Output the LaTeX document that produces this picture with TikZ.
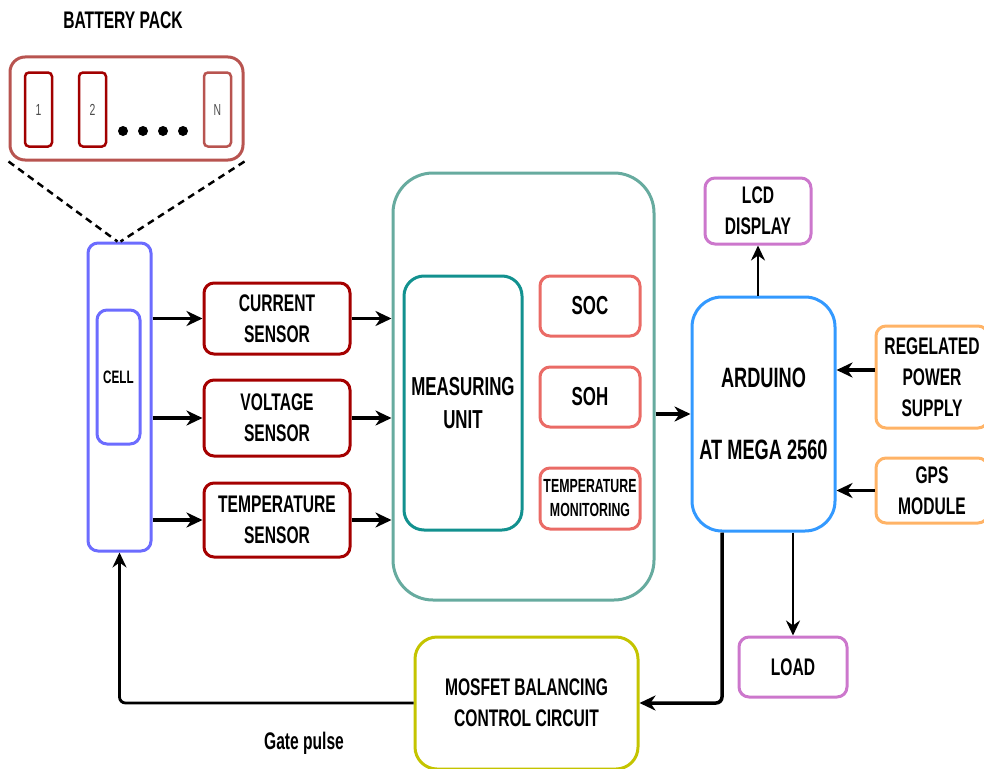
\documentclass[tikz,border=0pt]{standalone}
\usepackage{fontspec}
\setmainfont{Liberation Sans}[FakeStretch=0.65]
\usetikzlibrary{arrows.meta}
\definecolor{packred}{HTML}{B85450}
\definecolor{cellred}{HTML}{A20000}
\definecolor{sensred}{HTML}{A50000}
\definecolor{cellblue}{HTML}{6C6CFF}
\definecolor{measteal}{HTML}{67AB9F}
\definecolor{muteal}{HTML}{12918F}
\definecolor{socred}{HTML}{EA6B66}
\definecolor{ardblue}{HTML}{3399FF}
\definecolor{violet}{HTML}{CC77CC}
\definecolor{orange}{HTML}{FFB366}
\definecolor{olive}{HTML}{C4C400}
\begin{document}
\begin{tikzpicture}[x=1pt,y=-1pt,
  box/.style={draw=#1, line width=3pt, rounded corners=10pt, align=center,
    font=\fontsize{24}{31}\selectfont\bfseries, inner sep=0pt},
  cellbox/.style={draw=#1, line width=2.5pt, rounded corners=4pt, minimum width=27pt,
    minimum height=74pt, font=\fontsize{16}{18}\selectfont, text=black!70, inner sep=0pt},
  dot/.style={circle, fill=black, minimum size=10pt, inner sep=0pt},
  arr/.style={line width=3.5pt, -{Stealth[length=16pt,width=15pt,inset=5pt]}},
  arrt/.style={line width=2.8pt, -{Stealth[length=15pt,width=14pt,inset=5pt]}},
  dashline/.style={line width=2.5pt, dash pattern=on 7pt off 5pt},
  lbl/.style={font=\fontsize{24}{31}\selectfont\bfseries}
]
\clip (0,0) rectangle (984,768);

% battery pack
\node[lbl] (title) at (123,20) {BATTERY PACK};
\node[box=packred, minimum width=233pt, minimum height=103pt, rounded corners=15pt] (pack) at (126.5,108.5) {};
\node[cellbox=cellred] (c1) at (38.5,109.5) {1};
\node[cellbox=cellred] (c2) at (92.5,109.5) {2};
\node[cellbox=packred] (cN) at (217.5,109.5) {N};
\node[dot] (d1) at (123,131) {};
\node[dot] (d2) at (143,131) {};
\node[dot] (d3) at (163,131) {};
\node[dot] (d4) at (183,131) {};

% cell
\node[box=cellblue, minimum width=63pt, minimum height=308pt] (cellout) at (119.5,397) {};
\node[box=cellblue, minimum width=43pt, minimum height=134pt, font=\fontsize{18}{22}\selectfont\bfseries] (cellin) at (118.5,377) {CELL};
\draw[dashline] (pack.south west) -- ([xshift=-2pt]cellout.north);
\draw[dashline] (pack.south east) -- ([xshift=1pt]cellout.north);

% sensors
\node[box=sensred, minimum width=146pt, minimum height=71pt] (cur) at (277,318.5) {CURRENT\\SENSOR};
\node[box=sensred, minimum width=146pt, minimum height=76pt] (volt) at (277,418) {VOLTAGE\\SENSOR};
\node[box=sensred, minimum width=146pt, minimum height=74pt] (temp) at (277,520) {TEMPERATURE\\SENSOR};

% measuring
\node[box=measteal, minimum width=261pt, minimum height=427pt, rounded corners=40pt] (meas) at (523.5,386.5) {};
\node[box=muteal, minimum width=118pt, minimum height=254pt, rounded corners=20pt, font=\fontsize{26}{33}\selectfont\bfseries] (mu) at (463,403) {MEASURING\\UNIT};
\node[box=socred, minimum width=100pt, minimum height=60pt, font=\fontsize{26}{33}\selectfont\bfseries] (soc) at (590,306) {SOC};
\node[box=socred, minimum width=100pt, minimum height=60pt, font=\fontsize{26}{33}\selectfont\bfseries] (soh) at (590,397) {SOH};
\node[box=socred, minimum width=100pt, minimum height=61pt, font=\fontsize{19}{24}\selectfont\bfseries] (tmon) at (590,498.5) {TEMPERATURE\\MONITORING};

% arduino and peripherals
\node[box=ardblue, minimum width=143pt, minimum height=234pt, rounded corners=30pt, font=\fontsize{28}{36}\selectfont\bfseries] (ard) at (763.5,414) {ARDUINO\\[36pt]AT MEGA 2560};
\node[box=violet, minimum width=106pt, minimum height=66pt] (lcd) at (758,211) {LCD\\DISPLAY};
\node[box=orange, minimum width=112pt, minimum height=102pt] (reg) at (932,377) {REGELATED\\POWER\\SUPPLY};
\node[box=orange, minimum width=112pt, minimum height=65pt] (gps) at (932,490.5) {GPS\\MODULE};
\node[box=violet, minimum width=108pt, minimum height=60pt] (load) at (793,667) {LOAD};
\node[box=olive, minimum width=223pt, minimum height=132pt, rounded corners=22pt] (mos) at (526.5,703) {MOSFET BALANCING\\CONTROL CIRCUIT};
\node[lbl] (gate) at (304,743) {Gate pulse};

% connectors
\draw[arr] (cellout.east |- cur.west) -- (cur.west);
\draw[arr] (cellout.east |- volt.west) -- (volt.west);
\draw[arr] (cellout.east |- temp.west) -- (temp.west);
\draw[arr] (cur.east) -- (cur.east -| meas.west);
\draw[arr] (volt.east) -- (volt.east -| meas.west);
\draw[arr] (temp.east) -- (temp.east -| meas.west);
\draw[arr] (meas.east |- ard.west) -- (ard.west);
\draw[arrt] (ard.north -| lcd.south) -- (lcd.south);
\draw[arr] ([yshift=7pt]reg.west) -- ([yshift=7pt]reg.west -| ard.east);
\draw[arr] (gps.west) -- (gps.west -| ard.east);
\draw[arrt] (ard.south -| load.north) -- (load.north);
\draw[arr, rounded corners=6pt] ([xshift=-41.5pt]ard.south) |- (mos.east);
\draw[arrt, rounded corners=6pt] (mos.west) -| (cellout.south);
\end{tikzpicture}
\end{document}
